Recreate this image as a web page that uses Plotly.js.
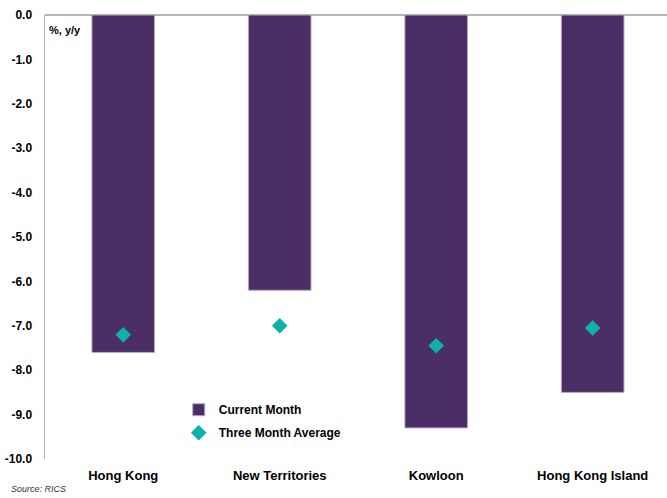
<!DOCTYPE html>
<html>
<head>
<meta charset="utf-8">
<script src="https://cdn.plot.ly/plotly-3.0.1.min.js"></script>
<style>html,body{margin:0;padding:0;background:#fff;}#chart{width:667px;height:498px;}</style>
</head>
<body>
<div id="chart"></div>
<script>
const categories = ["Hong Kong", "New Territories", "Kowloon", "Hong Kong Island"];
const currentMonth = [-7.6, -6.2, -9.3, -8.5];
const threeMonthAverage = [-7.2, -7.0, -7.45, -7.05];
const yTickValues = [0, -1, -2, -3, -4, -5, -6, -7, -8, -9, -10];

const fontFam = "Liberation Sans, Arial, sans-serif";

const traces = [
  {
    type: "bar",
    name: "<b>Current Month</b>",
    x: categories,
    y: currentMonth,
    width: 0.4,
    marker: {color: "#4B2E66", line: {color: "#B7A6C9", width: 1}},
    legend: "legend",
    hoverinfo: "y"
  },
  {
    type: "scatter",
    mode: "markers",
    name: "<b>Three Month Average</b>",
    x: categories,
    y: threeMonthAverage,
    marker: {symbol: "diamond", size: 12, color: "#0DB1A6"},
    legend: "legend2",
    hoverinfo: "y"
  }
];

const layout = {
  width: 667,
  height: 498,
  margin: {l: 45, r: 0, t: 15, b: 39},
  paper_bgcolor: "#fff",
  plot_bgcolor: "#fff",
  font: {family: fontFam, color: "#000"},
  bargap: 0.6,
  xaxis: {
    type: "category",
    range: [-0.5, 3.475],
    showline: false,
    showgrid: false,
    zeroline: false,
    ticks: "",
    ticklabelstandoff: 7,
    tickfont: {size: 13, family: fontFam},
    tickvals: categories,
    ticktext: categories.map(c => "<b>" + c + "</b>")
  },
  yaxis: {
    range: [-10, 0],
    tickvals: yTickValues,
    ticktext: yTickValues.map(v => "<b>" + v.toFixed(1) + "</b>"),
    showgrid: false,
    showline: true,
    linecolor: "#B3B3B3",
    linewidth: 1.5,
    zeroline: true,
    zerolinecolor: "#B3B3B3",
    zerolinewidth: 1.5,
    ticks: "",
    ticklabelstandoff: 9,
    tickfont: {size: 12, family: fontFam}
  },
  legend: {
    x: 0.215, y: 0.111, xanchor: "left", yanchor: "middle",
    font: {size: 12, family: fontFam, color: "#000"},
    bgcolor: "rgba(0,0,0,0)",
    itemwidth: 30
  },
  legend2: {
    x: 0.215, y: 0.059, xanchor: "left", yanchor: "middle",
    font: {size: 12, family: fontFam, color: "#000"},
    bgcolor: "rgba(0,0,0,0)",
    itemwidth: 30
  },
  annotations: [
    {
      text: "<b>%, y/y</b>",
      xref: "paper", yref: "paper",
      x: 0.003, y: 0.985, xanchor: "left", yanchor: "top",
      showarrow: false,
      font: {size: 11, family: fontFam, color: "#000"}
    },
    {
      text: "<i>Source: RICS</i>",
      xref: "paper", yref: "paper",
      x: -0.058, y: -0.068, xanchor: "left", yanchor: "middle",
      showarrow: false,
      font: {size: 9, family: fontFam, color: "#333"}
    }
  ],
  showlegend: true
};

Plotly.newPlot("chart", traces, layout, {displayModeBar: false, staticPlot: true});
</script>
</body>
</html>
